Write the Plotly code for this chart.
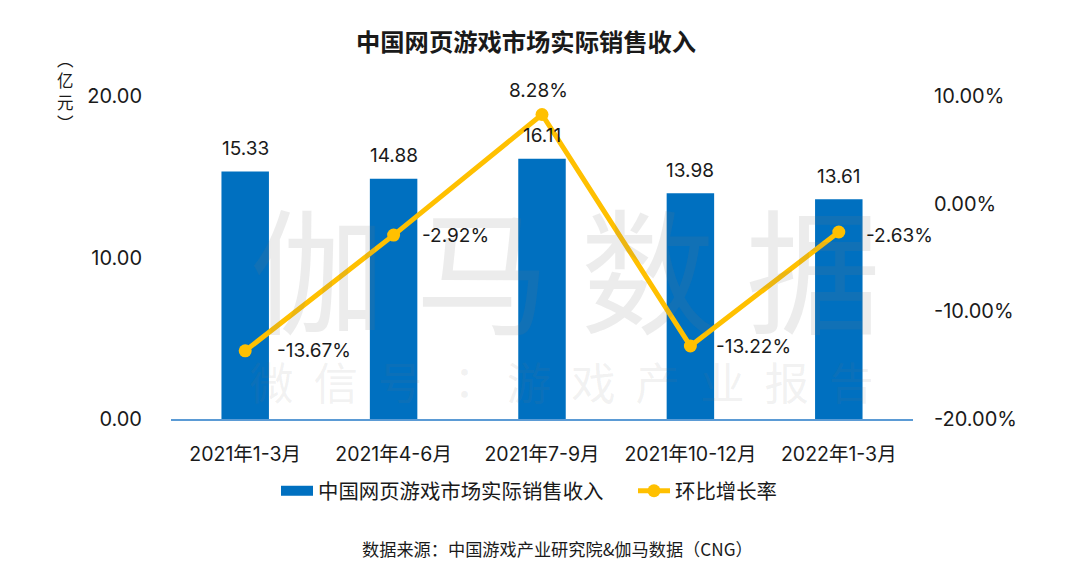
import plotly.graph_objects as go

categories = ["2021年1-3月", "2021年4-6月", "2021年7-9月", "2021年10-12月", "2022年1-3月"]
revenue = [15.33, 14.88, 16.11, 13.98, 13.61]
growth = [-13.67, -2.92, 8.28, -13.22, -2.63]
left_ticks = [0, 10, 20]
right_ticks = [-20, -10, 0, 10]
# label offsets for the growth labels, in pixels
label_dx = [30, 26, -4, 24, 25]
label_dy = [0, 0, 24, 0, -4]
label_anchor = ["left", "left", "center", "left", "left"]

F = "Inter, 'Noto Sans CJK SC', sans-serif"
C = "'Noto Sans CJK SC', Inter, sans-serif"
INK = "#1a1a1a"
BLUE = "#0070C0"
GOLD = "#FFC000"

# The page has an 8px body margin, so the figure is 16px smaller than the window.
FW, FH = 1064, 554
L, T = 171, 96      # plot area left/top in window pixels
R, B = 913, 419     # plot area right/bottom in window pixels
W, H = R - L, B - T

fig = go.Figure()
fig.add_trace(go.Bar(
    x=categories, y=revenue, name="中国网页游戏市场实际销售收入", showlegend=False,
    marker=dict(color=BLUE, line=dict(width=0)), width=0.32,
))
fig.add_trace(go.Scatter(
    x=categories, y=[None] * len(categories), name="中国网页游戏市场实际销售收入",
    mode="lines", line=dict(color=BLUE, width=10),
))
fig.add_trace(go.Scatter(
    x=categories, y=growth, name="环比增长率", yaxis="y2", mode="lines+markers",
    line=dict(color=GOLD, width=5), marker=dict(color=GOLD, size=13), cliponaxis=False,
))


def pa(x, y, text, size, color=INK, family=C, **kw):
    return dict(text=text, x=(x - L) / W, y=1 - (y - T) / H, xref="paper", yref="paper",
                showarrow=False, xanchor="center", yanchor="middle",
                font=dict(family=family, size=size, color=color), **kw)


annotations = [
    pa(526, 40, "<b>中国网页游戏市场实际销售收入</b>", 24.3),
    pa(65, 91, "︵<br>亿<br>元<br>︶", 16.5, align="center"),
    pa(557, 548, "数据来源：中国游戏产业研究院&伽马数据（CNG）", 17.2),
    pa(565, 265, "伽 马 数 据", 135, color="rgba(120,120,120,0.14)"),
    pa(561, 380, "微  信  号  ：  游  戏  产  业  报  告", 44.5,
       color="rgba(120,120,120,0.10)", family="'Noto Sans CJK TC', sans-serif"),
]
for cat, val in zip(categories, revenue):
    annotations.append(dict(
        x=cat, y=val, xref="x", yref="y", text=f"{val:.2f}", showarrow=False,
        xanchor="center", yanchor="middle", yshift=23,
        font=dict(family=F, size=19, color=INK),
    ))
for cat, val, dx, dy, anc in zip(categories, growth, label_dx, label_dy, label_anchor):
    annotations.append(dict(
        x=cat, y=val, xref="x", yref="y2", text=f"{val:.2f}%", showarrow=False,
        xanchor=anc, yanchor="middle", xshift=dx, yshift=dy,
        font=dict(family=F, size=19, color=INK),
    ))

fig.update_layout(
    width=FW, height=FH, autosize=False,
    margin=dict(l=L - 8, r=FW + 8 - R, t=T - 8, b=FH + 8 - B),
    paper_bgcolor="white", plot_bgcolor="rgba(0,0,0,0)",
    font=dict(family=F, color=INK),
    showlegend=True,
    xaxis=dict(type="category", range=[-0.5, 4.5], showgrid=False, ticks="outside", ticklen=17,
               tickcolor="rgba(0,0,0,0)", showline=True, linecolor="#5B9BD5", linewidth=2,
               tickfont=dict(family=F, size=19.5, color=INK)),
    yaxis=dict(range=[0, 20], tickvals=left_ticks, tickformat=".2f", showgrid=False, zeroline=False,
               showline=False, ticks="outside", ticklen=24, tickcolor="rgba(0,0,0,0)",
               tickfont=dict(family=F, size=20, color=INK)),
    yaxis2=dict(range=[-20, 10], overlaying="y", side="right", tickvals=right_ticks,
                ticktext=[f"{v:.2f}%" for v in right_ticks], showgrid=False, zeroline=False,
                showline=False, ticks="outside", ticklen=16, tickcolor="rgba(0,0,0,0)",
                tickfont=dict(family=F, size=20, color=INK)),
    legend=dict(orientation="h", xref="paper", yref="paper", x=(276 - L) / W, xanchor="left",
                y=1 - (491 - T) / H, yanchor="middle",
                font=dict(family=C, size=20.4, color=INK), entrywidth=310, entrywidthmode="pixels",
                itemwidth=32, traceorder="normal", bgcolor="rgba(0,0,0,0)"),
    annotations=annotations,
)
fig.write_html("out.html")
